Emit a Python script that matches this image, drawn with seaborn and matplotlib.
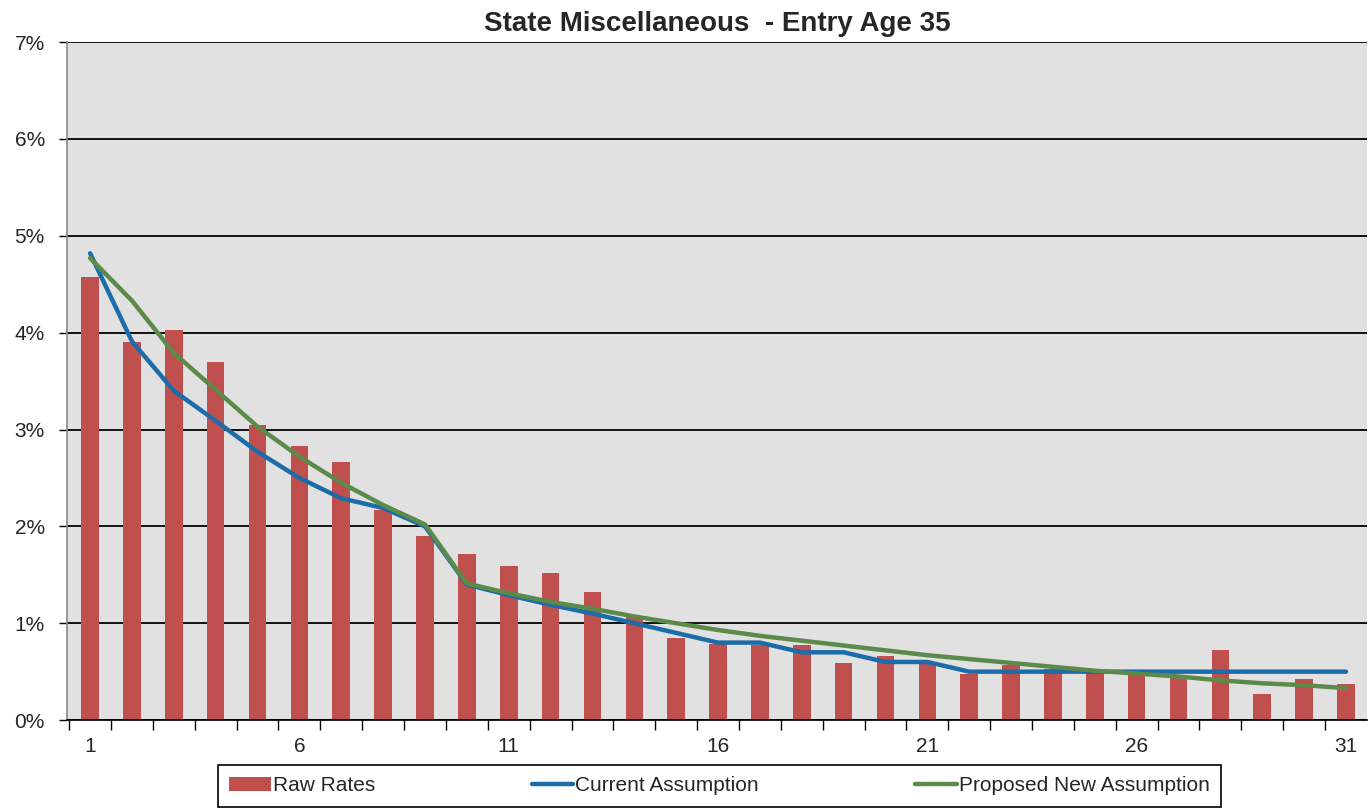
import seaborn as sns
import matplotlib.pyplot as plt
import pandas as pd
from matplotlib.ticker import FixedLocator, FuncFormatter

sns.set_theme(style="white")
plt.rcParams['font.family'] = ['Liberation Sans Narrow', 'Liberation Sans', 'DejaVu Sans']

# --- datos ---
years = list(range(1, 32))
raw_rates = [4.58, 3.90, 4.03, 3.70, 3.05, 2.83, 2.66, 2.17, 1.90, 1.72,
             1.59, 1.52, 1.32, 1.07, 0.85, 0.79, 0.78, 0.78, 0.59, 0.66,
             0.60, 0.48, 0.57, 0.53, 0.50, 0.52, 0.47, 0.72, 0.27, 0.42,
             0.37]
current = [4.82, 3.91, 3.40, 3.09, 2.77, 2.50, 2.29, 2.19, 2.00, 1.40,
           1.29, 1.19, 1.10, 1.00, 0.90, 0.80, 0.80, 0.70, 0.70, 0.60,
           0.60, 0.50, 0.50, 0.50, 0.50, 0.50, 0.50, 0.50, 0.50, 0.50,
           0.50]
proposed = [4.77, 4.33, 3.79, 3.41, 3.03, 2.72, 2.45, 2.22, 2.02, 1.41,
            1.31, 1.22, 1.15, 1.07, 1.00, 0.93, 0.87, 0.82, 0.77, 0.72,
            0.67, 0.63, 0.59, 0.55, 0.51, 0.48, 0.45, 0.41, 0.38, 0.36,
            0.33]
tick_years = [1, 6, 11, 16, 21, 26, 31]

df = pd.DataFrame({"year": years, "raw": raw_rates,
                   "current": current, "proposed": proposed})

fig = plt.figure(figsize=(13.69, 8.10), dpi=100)
ax = fig.add_axes([0.049, 0.111, 0.9495, 0.837])
ax.set_facecolor("#e1e1e1")

sns.barplot(data=df, x="year", y="raw", native_scale=True, width=0.42,
            color="#c0504d", saturation=1, linewidth=0, edgecolor="none",
            label="Raw Rates", ax=ax, zorder=2)
sns.lineplot(data=df, x="year", y="current", color="#1b6ca8", lw=3.2,
             label="Current Assumption", ax=ax, zorder=3)
sns.lineplot(data=df, x="year", y="proposed", color="#5b8a4a", lw=3.2,
             label="Proposed New Assumption", ax=ax, zorder=4)

ax.set_xlim(0.45, 31.5)
ax.set_ylim(0, 7)
ax.set_yticks(range(0, 8))
ax.yaxis.set_major_formatter(FuncFormatter(lambda v, p: f"{int(v)}%"))
ax.grid(axis="y", color="black", lw=1.3, zorder=1)
ax.set_axisbelow(True)

ax.xaxis.set_major_locator(FixedLocator(tick_years))
ax.xaxis.set_minor_locator(FixedLocator([y + 0.5 for y in range(0, 31)]))
ax.tick_params(axis="x", which="major", length=0, pad=12, labelsize=15)
ax.tick_params(axis="x", which="minor", length=7, width=1, color="black",
               direction="out", bottom=True)
ax.tick_params(axis="y", length=6, width=1, color="black", direction="out",
               left=True, labelsize=15, pad=10)

ax.set_xlabel("")
ax.set_ylabel("")
for s in ["top", "right"]:
    ax.spines[s].set_visible(False)
ax.spines["left"].set_color("#888888")
ax.spines["bottom"].set_color("black")
ax.spines["left"].set_linewidth(1.2)

ax.set_title("State Miscellaneous  - Entry Age 35", fontsize=20,
             fontweight="bold", pad=8)

# orden de la leyenda: barras primero
handles, labels = ax.get_legend_handles_labels()
order = [labels.index(l) for l in ["Raw Rates", "Current Assumption",
                                   "Proposed New Assumption"]]
leg = ax.legend([handles[i] for i in order], [labels[i] for i in order],
                loc="upper center", bbox_to_anchor=(0.502, -0.066), ncol=3,
                fancybox=False, edgecolor="black", fontsize=15,
                columnspacing=7.5, handlelength=2.0, handletextpad=0.1,
                borderpad=0.55, borderaxespad=0, framealpha=1)
leg.get_frame().set_linewidth(1.2)

fig.savefig("out.png", dpi=100)
